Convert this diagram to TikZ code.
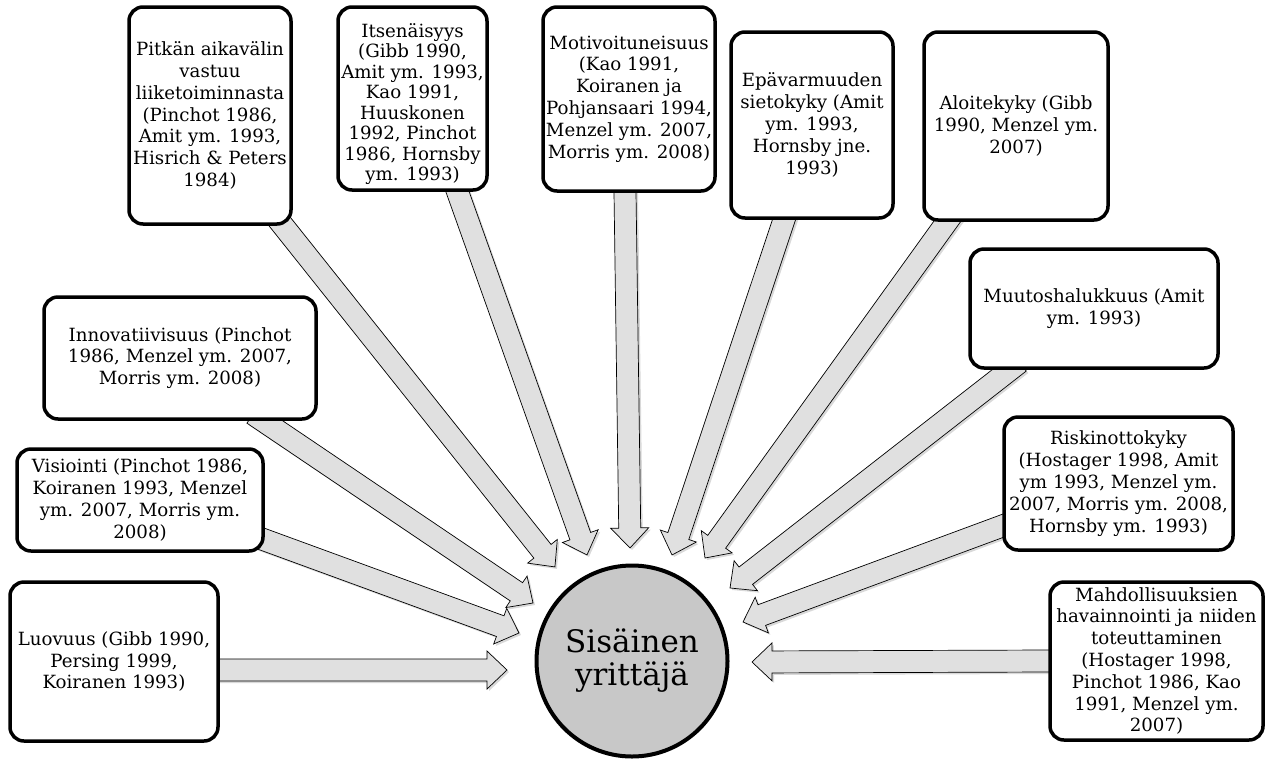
\documentclass[tikz,border=0pt]{standalone}
\usepackage{fontspec}
\setmainfont{DejaVu Serif}
\usetikzlibrary{shadows,calc}
\definecolor{arrowgray}{RGB}{224,224,224}
\definecolor{circlegray}{RGB}{200,200,200}
\pgfdeclarelayer{bg}
\pgfsetlayers{bg,main}
\tikzset{
  boxtext/.style={align=center, inner sep=0pt, font=\fontsize{18.2}{21.8}\selectfont},
  box/.style={boxtext, draw, line width=3.5pt, rounded corners=14pt, fill=white},
  blockarrow/.style={draw=black, line width=0.7pt, fill=arrowgray,
    drop shadow={opacity=0.3, shadow xshift=2pt, shadow yshift=-2pt}},
}
\newcommand{\blockarr}[2]{%
  \path[blockarrow] let \p1=($(#1)!-12pt!(#2)$), \p2=(#2),
    \n1={atan2(\y2-\y1,\x2-\x1)}, \n2={veclen(\x2-\x1,\y2-\y1)} in
    [shift={(\p1)}, rotate=\n1]
    (0pt,-11pt) -- ({\n2*1pt-20pt},-11pt) -- ({\n2*1pt-20pt},-19pt) -- ({\n2*1pt},0pt)
    -- ({\n2*1pt-20pt},19pt) -- ({\n2*1pt-20pt},11pt) -- (0pt,11pt) -- cycle;}
\begin{document}
\begin{tikzpicture}[x=1pt,y=-1pt]
\useasboundingbox (0,0) rectangle (1273,758);

% centre
\node[circle, draw, line width=4pt, fill=circlegray, minimum size=191pt, inner sep=0pt,
  align=center, font=\fontsize{31}{33}\selectfont] (c) at (632,661) {Sisäinen\\yrittäjä};

% boxes
\node[box, minimum width=208pt, minimum height=159pt] (b1) at (114,661.5)
  {Luovuus (Gibb 1990,\\Persing 1999,\\Koiranen 1993)};
\node[box, minimum width=246pt, minimum height=102pt] (b2) at (140,500)
  {Visiointi (Pinchot 1986,\\Koiranen 1993, Menzel\\ym. 2007, Morris ym.\\2008)};
\node[box, minimum width=272pt, minimum height=122pt] (b3) at (180,358)
  {Innovatiivisuus (Pinchot\\1986, Menzel ym. 2007,\\Morris ym. 2008)};
\node[box, minimum width=162pt, minimum height=217pt] (b4) at (210,115.5)
  {Pitkän aikavälin\\vastuu\\liiketoiminnasta\\(Pinchot 1986,\\Amit ym. 1993,\\Hisrich \& Peters\\1984)};
\node[box, minimum width=149pt, minimum height=183pt] (b5) at (412.5,98.5) {};
\node[boxtext, font=\fontsize{18.2}{20.5}\selectfont] (b5t) at (412.5,104)
  {Itsenäisyys\\(Gibb 1990,\\Amit ym. 1993,\\Kao 1991,\\Huuskonen\\1992, Pinchot\\1986, Hornsby\\ym. 1993)};
\node[box, minimum width=172pt, minimum height=184pt] (b6) at (629,99)
  {Motivoituneisuus\\(Kao 1991,\\Koiranen ja\\Pohjansaari 1994,\\Menzel ym. 2007,\\Morris ym. 2008)};
\node[box, minimum width=162pt, minimum height=186pt] (b7) at (812,125)
  {Epävarmuuden\\sietokyky (Amit\\ym. 1993,\\Hornsby jne.\\1993)};
\node[box, minimum width=184pt, minimum height=188pt] (b8) at (1016,126)
  {Aloitekyky (Gibb\\1990, Menzel ym.\\2007)};
\node[box, minimum width=248pt, minimum height=119pt] (b9) at (1094,308.5)
  {Muutoshalukkuus (Amit\\ym. 1993)};
\node[box, minimum width=229pt, minimum height=133pt] (b10) at (1118.5,483.5)
  {Riskinottokyky\\(Hostager 1998, Amit\\ym 1993, Menzel ym.\\2007, Morris ym. 2008,\\Hornsby ym. 1993)};
\node[box, minimum width=213pt, minimum height=158pt] (b11) at (1156.5,661)
  {Mahdollisuuksien\\havainnointi ja niiden\\toteuttaminen\\(Hostager 1998,\\Pinchot 1986, Kao\\1991, Menzel ym.\\2007)};

% tails
\coordinate (s1) at ([yshift=-8.5pt]b1.east);
\coordinate (s2) at ([yshift=-40pt]b2.east);
\coordinate (s3) at ([xshift=83pt]b3.south);
\coordinate (s4) at ([xshift=73pt]b4.south);
\coordinate (s5) at ([xshift=45pt]b5.south);
\coordinate (s6) at ([xshift=-4pt]b6.south);
\coordinate (s7) at ([xshift=-28pt]b7.south);
\coordinate (s8) at ([xshift=-69pt]b8.south);
\coordinate (s9) at ([xshift=-84pt]b9.south);
\coordinate (s10) at ([yshift=-42.5pt]b10.west);
\coordinate (s11) at (b11.west);
% tips
\coordinate (t1) at (507,670);
\coordinate (t2) at (519,633);
\coordinate (t3) at (533,603);
\coordinate (t4) at (555,567);
\coordinate (t5) at (587,555);
\coordinate (t6) at (630,548);
\coordinate (t7) at (672,555);
\coordinate (t8) at (705,558);
\coordinate (t9) at (730,588);
\coordinate (t10) at (743,622);
\coordinate (t11) at (752,662);

\begin{pgfonlayer}{bg}
\foreach \i in {1,...,11} {\blockarr{s\i}{t\i}}
\end{pgfonlayer}
\end{tikzpicture}
\end{document}
